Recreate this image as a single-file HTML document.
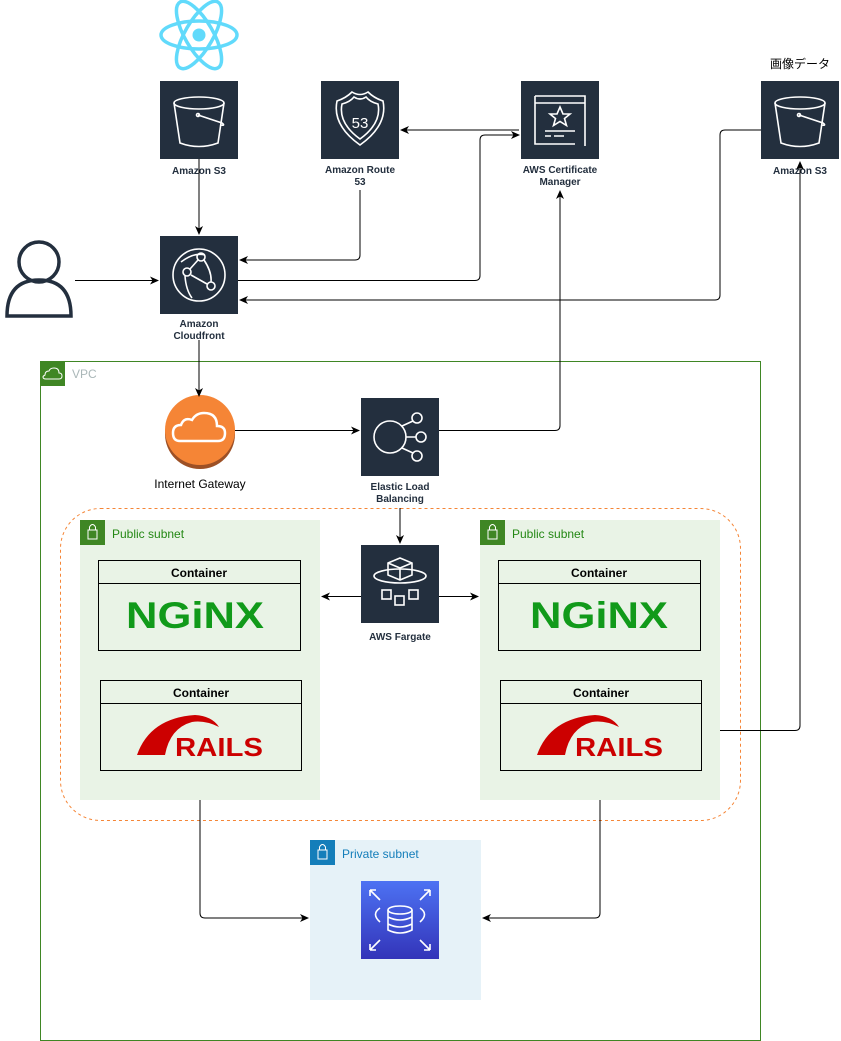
<!DOCTYPE html>
<html><head><meta charset="utf-8"><style>
html,body{margin:0;padding:0;background:#fff;}
svg{display:block;}
text{font-family:"Liberation Sans","Noto Sans CJK JP",sans-serif;}
.lbl{font-size:10px;font-weight:bold;fill:#232F3E;text-anchor:middle;}
.ln{fill:none;stroke:#000;stroke-width:1;}
.ic{fill:none;stroke:#fff;stroke-width:1.6;}
</style></head><body>
<svg width="841" height="1041" viewBox="0 0 841 1041" xmlns="http://www.w3.org/2000/svg">
<defs>
<marker id="a" markerWidth="10" markerHeight="10" refX="8" refY="5" orient="auto" markerUnits="userSpaceOnUse">
<path d="M0,1 L9,5 L0,9 L2.5,5 Z" fill="#000"/></marker>
<linearGradient id="rds" x1="0" y1="0" x2="0" y2="1"><stop offset="0" stop-color="#4D72F3"/><stop offset="1" stop-color="#3334B9"/></linearGradient>
</defs>

<g transform="translate(199,35)" fill="none" stroke="#61DAFB" stroke-width="3.5">
<ellipse rx="38" ry="14"/><ellipse rx="38" ry="14" transform="rotate(60)"/><ellipse rx="38" ry="14" transform="rotate(120)"/>
<circle r="6.5" fill="#61DAFB" stroke="none"/></g>

<rect x="160" y="81" width="78" height="78" fill="#232F3E"/>
<g class="ic"><ellipse cx="199" cy="103" rx="25" ry="6"/><path d="M174,103 L180,143 Q199,150 218,143 L224,103"/><circle cx="198" cy="115" r="1.5"/><path d="M198,115 L222,123 Q226,126 220,125"/></g>
<text class="lbl" x="199" y="174">Amazon S3</text>

<rect x="321" y="81" width="78" height="78" fill="#232F3E"/>
<g class="ic"><path d="M337,101 Q346,98 352,92 Q360,97 368,92 Q374,98 383,101 Q388,125 360,145 Q332,125 337,101Z"/><path d="M342,104 Q350,102 354,97 Q360,101 366,97 Q370,102 378,104 Q382,123 360,139 Q338,123 342,104Z"/></g>
<text x="360" y="128" font-size="15" fill="#fff" text-anchor="middle">53</text>
<text class="lbl" x="360" y="173">Amazon Route</text><text class="lbl" x="360" y="185">53</text>

<rect x="521" y="81" width="78" height="78" fill="#232F3E"/>
<g class="ic"><path d="M535,96 h50 v50 M535,96 v48 h40"/><path d="M535,103 h50"/><path d="M560,107 l3,7 7,0 -5.5,4.5 2,7 -6.5,-4 -6.5,4 2,-7 -5.5,-4.5 7,0z"/><path d="M545,131 h30 M545,136 h6 M554,136 h10"/></g>
<text class="lbl" x="560" y="173">AWS Certificate</text><text class="lbl" x="560" y="185">Manager</text>

<text x="800" y="68" font-size="12" fill="#000" text-anchor="middle">画像データ</text>
<rect x="761" y="81" width="78" height="78" fill="#232F3E"/>
<g class="ic"><ellipse cx="800" cy="103" rx="25" ry="6"/><path d="M775,103 L781,143 Q800,150 819,143 L825,103"/><circle cx="799" cy="115" r="1.5"/><path d="M799,115 L823,123 Q827,126 821,125"/></g>
<text class="lbl" x="800" y="174">Amazon S3</text>

<g fill="none" stroke="#232F3E" stroke-width="3.5"><circle cx="39" cy="262" r="20"/><path d="M7,316 Q7,280 39,280 Q71,280 71,316 Z"/></g>

<rect x="160" y="236" width="78" height="78" fill="#232F3E"/>
<g class="ic"><circle cx="199" cy="275" r="26"/><circle cx="201" cy="257" r="4"/><circle cx="187" cy="272" r="4"/><circle cx="211" cy="286" r="4"/><path d="M190,269 L198,260 M191,275 L207,284 M204,260 Q212,272 211,282 M185,276 Q186,290 192,298 M205,255 Q194,252 181,262"/></g>
<text class="lbl" x="199" y="327">Amazon</text><text class="lbl" x="199" y="339">Cloudfront</text>

<rect x="40.5" y="361.5" width="720" height="679" fill="none" stroke="#3F8624" stroke-width="1"/>
<rect x="40" y="361" width="25" height="25" fill="#3F8624"/>
<path d="M46,379 h13 q3,0 3,-3 q0,-3 -3,-3 q0,-5 -5,-5 q-4,0 -5,3 q-4,0 -4,4 q-2,1 -2,2 q0,2 3,2z" fill="none" stroke="#fff" stroke-width="1"/>
<text x="72" y="378" font-size="12" fill="#AAB7B8">VPC</text>

<circle cx="200" cy="434" r="35" fill="#9D5025"/>
<circle cx="200" cy="430" r="35" fill="#F58536"/>
<path d="M180,441 h38 q7,0 7,-8 q0,-7 -8,-7 q0,-13 -13,-13 q-8,0 -12,7 q-8,-3 -11,5 q-8,0 -8,8 q0,8 7,8z" fill="none" stroke="#fff" stroke-width="2.5"/>
<text x="200" y="488" font-size="12" fill="#000" text-anchor="middle">Internet Gateway</text>

<rect x="361" y="398" width="78" height="78" fill="#232F3E"/>
<g class="ic"><circle cx="390" cy="437" r="16"/><circle cx="417" cy="418" r="5"/><circle cx="421" cy="437" r="5"/><circle cx="417" cy="456" r="5"/><path d="M402,426 L413,421 M406,437 H416 M402,448 L413,453"/></g>
<text class="lbl" x="400" y="490">Elastic Load</text><text class="lbl" x="400" y="502">Balancing</text>

<rect x="60.5" y="508.5" width="680" height="312" rx="40" fill="none" stroke="#F58536" stroke-dasharray="3,3"/>

<g>
<rect x="80" y="520" width="240" height="280" fill="#E9F3E6"/>
<rect x="80" y="520" width="25" height="25" fill="#3F8624"/>
<rect x="88" y="530" width="9" height="9" fill="none" stroke="#fff"/><path d="M89.5,530 v-3 q3,-5 6,0 v3" fill="none" stroke="#fff"/>
<text x="112" y="538" font-size="12" fill="#248814">Public subnet</text>
<rect x="480" y="520" width="240" height="280" fill="#E9F3E6"/>
<rect x="480" y="520" width="25" height="25" fill="#3F8624"/>
<rect x="488" y="530" width="9" height="9" fill="none" stroke="#fff"/><path d="M489.5,530 v-3 q3,-5 6,0 v3" fill="none" stroke="#fff"/>
<text x="512" y="538" font-size="12" fill="#248814">Public subnet</text>
</g>

<g>
<rect x="98.5" y="560.5" width="202" height="90" fill="none" stroke="#000"/><line x1="98.5" y1="583.5" x2="300.5" y2="583.5" stroke="#000"/>
<text x="199" y="577" font-size="12" font-weight="bold" text-anchor="middle">Container</text>
<text x="195" y="628" font-size="37" font-weight="bold" fill="#119A1A" text-anchor="middle" textLength="138" lengthAdjust="spacingAndGlyphs">NGiNX</text>
<rect x="100.5" y="680.5" width="201" height="90" fill="none" stroke="#000"/><line x1="100.5" y1="703.5" x2="301.5" y2="703.5" stroke="#000"/>
<text x="201" y="697" font-size="12" font-weight="bold" text-anchor="middle">Container</text>
<path d="M137,755 Q150,718 195,715 Q212,716 219,727 Q205,720 192,722 Q170,728 165,755Z" fill="#C00"/>
<text x="219" y="756" font-size="26" font-weight="900" fill="#C00" text-anchor="middle" textLength="88" lengthAdjust="spacingAndGlyphs">RAILS</text>
</g>
<g transform="translate(400,0)">
<rect x="98.5" y="560.5" width="202" height="90" fill="none" stroke="#000"/><line x1="98.5" y1="583.5" x2="300.5" y2="583.5" stroke="#000"/>
<text x="199" y="577" font-size="12" font-weight="bold" text-anchor="middle">Container</text>
<text x="199" y="628" font-size="37" font-weight="bold" fill="#119A1A" text-anchor="middle" textLength="138" lengthAdjust="spacingAndGlyphs">NGiNX</text>
<rect x="100.5" y="680.5" width="201" height="90" fill="none" stroke="#000"/><line x1="100.5" y1="703.5" x2="301.5" y2="703.5" stroke="#000"/>
<text x="201" y="697" font-size="12" font-weight="bold" text-anchor="middle">Container</text>
<path d="M137,755 Q150,718 195,715 Q212,716 219,727 Q205,720 192,722 Q170,728 165,755Z" fill="#C00"/>
<text x="219" y="756" font-size="26" font-weight="900" fill="#C00" text-anchor="middle" textLength="88" lengthAdjust="spacingAndGlyphs">RAILS</text>
</g>

<rect x="361" y="545" width="78" height="78" fill="#232F3E"/>
<g class="ic"><path d="M388,563 l12,-5 12,5 v12 l-12,5 -12,-5z M388,563 l12,5 12,-5 M400,568 v12"/><ellipse cx="400" cy="576" rx="26" ry="7"/><rect x="382" y="590" width="9" height="9"/><rect x="409" y="590" width="9" height="9"/><rect x="395" y="596" width="9" height="9"/></g>
<text class="lbl" x="400" y="640">AWS Fargate</text>

<rect x="310" y="840" width="171" height="160" fill="#E6F2F8"/>
<rect x="310" y="840" width="25" height="25" fill="#147EBA"/>
<rect x="318" y="850" width="9" height="9" fill="none" stroke="#fff"/><path d="M319.5,850 v-3 q3,-5 6,0 v3" fill="none" stroke="#fff"/>
<text x="342" y="858" font-size="12" fill="#147EBA">Private subnet</text>
<rect x="361" y="881" width="78" height="78" fill="url(#rds)"/>
<g class="ic"><ellipse cx="400" cy="910" rx="12" ry="4"/><path d="M388,910 v20 q12,6 24,0 v-20 M388,917 q12,6 24,0 M388,924 q12,6 24,0"/><path d="M380,908 q-9,6 0,14 M420,908 q9,6 0,14"/><path d="M370,890 l10,10 M370,890 h6 M370,890 v6 M430,890 l-10,10 M430,890 h-6 M430,890 v6 M370,950 l10,-10 M370,950 h6 M370,950 v-6 M430,950 l-10,-10 M430,950 h-6 M430,950 v-6"/></g>

<g class="ln">
<path d="M199,159 V234" marker-end="url(#a)"/>
<path d="M75,280.5 H158" marker-end="url(#a)"/>
<path d="M360,190 V255 q0,5 -5,5 H240" marker-end="url(#a)"/>
<path d="M519,130 H401" marker-end="url(#a)"/>
<path d="M238,280.5 H475 q5,0 5,-5 V140 q0,-5 5,-5 H519" marker-end="url(#a)"/>
<path d="M761,130 H725 q-5,0 -5,5 V295 q0,5 -5,5 H240" marker-end="url(#a)"/>
<path d="M199,340 V396" marker-end="url(#a)"/>
<path d="M235,430.5 H359" marker-end="url(#a)"/>
<path d="M439,430.5 H555 q5,0 5,-5 V191" marker-end="url(#a)"/>
<path d="M400,508 V543" marker-end="url(#a)"/>
<path d="M361,596.5 H322" marker-end="url(#a)"/>
<path d="M439,596.5 H478" marker-end="url(#a)"/>
<path d="M720,730.5 H795 q5,0 5,-5 V162" marker-end="url(#a)"/>
<path d="M200,800 V913 q0,5 5,5 H308" marker-end="url(#a)"/>
<path d="M600,800 V913 q0,5 -5,5 H483" marker-end="url(#a)"/>
</g>
</svg>
</body></html>
